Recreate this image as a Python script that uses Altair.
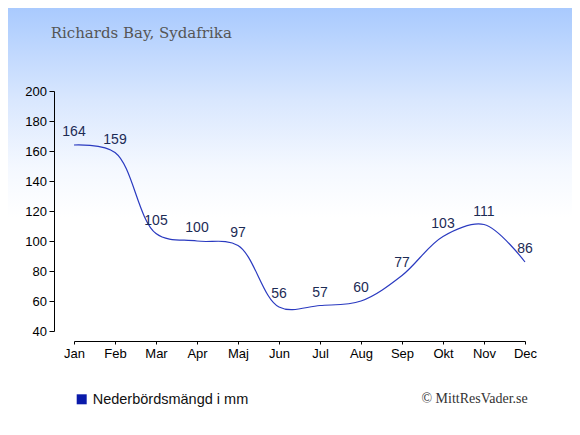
import altair as alt
import pandas as pd

months = ["Jan", "Feb", "Mar", "Apr", "Maj", "Jun", "Jul", "Aug", "Sep", "Okt", "Nov", "Dec"]
rain = [164, 159, 105, 100, 97, 56, 57, 60, 77, 103, 111, 86]
y_ticks = [40, 60, 80, 100, 120, 140, 160, 180, 200]

title_text = "Richards Bay, Sydafrika"
legend_text = "Nederbördsmängd i mm"
credit_text = "© MittResVader.se"

df = pd.DataFrame({"month": months, "rain": rain})
one = pd.DataFrame({"a": [0]})

W, H = 451, 240
PL, PT, PR, PB = 66, 83, 47, 96

xaxis = alt.Axis(
    title=None, labelAngle=0, offset=10, domainColor="black", tickColor="black",
    tickSize=3, labelPadding=3, labelFont="Liberation Sans", labelFontSize=13,
    labelColor="black", grid=False, zindex=1, labelOverlap=False,
)
yaxis = alt.Axis(
    title=None, values=y_ticks, offset=20, domainColor="black", tickColor="black",
    tickSize=5, labelPadding=2.5, labelFont="Liberation Sans", labelFontSize=13,
    labelColor="black", grid=False, zindex=1, labelOverlap=False,
)
xenc = alt.X("month:N", sort=months, scale=alt.Scale(type="point", padding=0), axis=xaxis)
yenc = alt.Y("rain:Q", scale=alt.Scale(domain=[40, 200], nice=False, zero=False), axis=yaxis)

bg = alt.Chart(one).mark_rect(
    color=alt.Gradient(
        gradient="linear",
        stops=[
            alt.GradientStop(color="#a9cafe", offset=0),
            alt.GradientStop(color="#d9e7fe", offset=0.22),
            alt.GradientStop(color="#f4f8ff", offset=0.38),
            alt.GradientStop(color="#ffffff", offset=0.5),
            alt.GradientStop(color="#ffffff", offset=1),
        ],
        x1=0, x2=0, y1=0, y2=1,
    )
).encode(
    x=alt.value(-PL), x2=alt.value(W + PR), y=alt.value(-PT), y2=alt.value(H + PB)
)

line = alt.Chart(df).mark_line(
    interpolate="catmull-rom", color="#2a3ac0", strokeWidth=1.2
).encode(x=xenc, y=yenc)

labels = alt.Chart(df).mark_text(
    dy=-9, baseline="alphabetic", align="center", font="Liberation Sans",
    fontSize=14, color="#1c2b55",
).encode(x=xenc, y=yenc, text="rain:Q")

title = alt.Chart(one).mark_text(
    text=title_text, align="left", baseline="alphabetic", font="DejaVu Serif",
    fontSize=15, color="#555555",
).encode(x=alt.value(51 - 74.3), y=alt.value(37.7 - 90.7))

legend_sq = alt.Chart(one).mark_rect(color="#0a1aaa").encode(
    x=alt.value(2.7), x2=alt.value(12.7), y=alt.value(303.3), y2=alt.value(313.3)
)
legend_tx = alt.Chart(one).mark_text(
    text=legend_text, align="left", baseline="alphabetic", font="Liberation Sans",
    fontSize=14.5, color="#111111",
).encode(x=alt.value(18.7), y=alt.value(312.5))

credit = alt.Chart(one).mark_text(
    text=credit_text, align="right", baseline="alphabetic", font="Liberation Serif",
    fontSize=14, color="#333333",
).encode(x=alt.value(453.7), y=alt.value(311.5))

chart = alt.layer(bg, line, labels, title, legend_sq, legend_tx, credit).properties(
    width=W, height=H,
    padding={"left": PL, "top": PT, "right": PR, "bottom": PB},
    autosize=alt.AutoSizeParams(type="none"),
    background="white",
).configure_view(stroke=None)

chart.save("out.html", embed_options={"renderer": "svg", "actions": False})
